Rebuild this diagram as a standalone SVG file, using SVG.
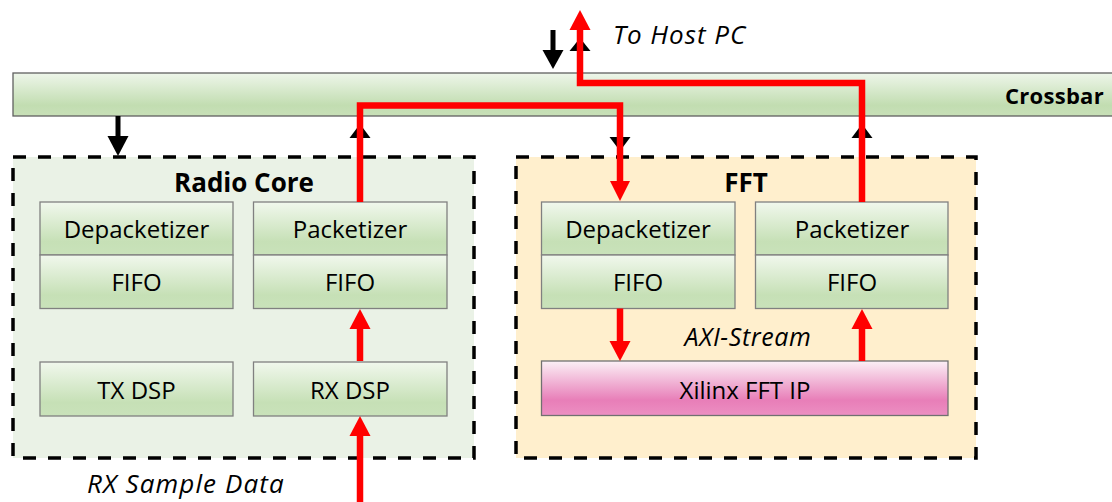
<svg xmlns="http://www.w3.org/2000/svg" width="1112" height="502" viewBox="0 0 1112 502">
  <defs>
    <linearGradient id="gGreen" x1="0" y1="0" x2="0" y2="1">
      <stop offset="0" stop-color="#F1F8ED"/>
      <stop offset="0.75" stop-color="#C6E0B6"/>
      <stop offset="1" stop-color="#C9E2BA"/>
    </linearGradient>
    <linearGradient id="gBar" x1="0" y1="0" x2="0" y2="1">
      <stop offset="0" stop-color="#EEF6EA"/>
      <stop offset="0.75" stop-color="#C2DDB1"/>
      <stop offset="1" stop-color="#C8E0B8"/>
    </linearGradient>
    <linearGradient id="gPink" x1="0" y1="0" x2="0" y2="1">
      <stop offset="0" stop-color="#FBF0F6"/>
      <stop offset="0.72" stop-color="#E87EB8"/>
      <stop offset="1" stop-color="#EC8FC2"/>
    </linearGradient>
    <style>
      .blk { fill: url(#gGreen); stroke: #808080; stroke-width: 1.3; }
      .ip { fill: url(#gPink); stroke: #707070; stroke-width: 1.3; }
      .cont { stroke: #000; stroke-width: 3.5; stroke-dasharray: 13 12; }
      .lbl { font-family: "Open Sans", "Liberation Sans", sans-serif; font-size: 24px; fill: #000; text-anchor: middle; }
      .ttl { font-family: "Open Sans", "Liberation Sans", sans-serif; font-size: 26px; font-weight: bold; fill: #000; text-anchor: middle; }
      .note { font-family: "Open Sans", "Liberation Sans", sans-serif; font-style: italic; fill: #000; }
      .red { fill: none; stroke: #FF0000; stroke-width: 6.5; stroke-linejoin: miter; }
      .redhead { fill: #FF0000; }
      .blkline { fill: none; stroke: #000; stroke-width: 5; }
      .blkhead { fill: #000; }
    </style>
  </defs>

  <!-- crossbar bus -->
  <g id="crossbar">
    <rect x="13" y="73" width="1110" height="43" fill="url(#gBar)" stroke="#606060" stroke-width="1.3"/>
    <text x="1104" y="104" class="ttl" style="font-size:22px;text-anchor:end;letter-spacing:0.3px">Crossbar</text>
  </g>

  <!-- Radio Core block -->
  <g id="radio-core">
    <rect x="13" y="157" width="461" height="301" fill="#EAF2E6" class="cont"/>
    <text x="244" y="191.5" class="ttl">Radio Core</text>
  </g>
  <g id="rc-depacketizer">
    <rect x="40" y="202" width="193" height="53" class="blk"/>
    <text x="136.5" y="238" class="lbl">Depacketizer</text>
  </g>
  <g id="rc-depacketizer-fifo">
    <rect x="40" y="255" width="193" height="53.5" class="blk"/>
    <text x="136.5" y="291" class="lbl">FIFO</text>
  </g>
  <g id="rc-packetizer">
    <rect x="253.5" y="202" width="193.5" height="53" class="blk"/>
    <text x="350" y="238" class="lbl">Packetizer</text>
  </g>
  <g id="rc-packetizer-fifo">
    <rect x="253.5" y="255" width="193.5" height="53.5" class="blk"/>
    <text x="350" y="291" class="lbl">FIFO</text>
  </g>
  <g id="tx-dsp">
    <rect x="40" y="362" width="193" height="54" class="blk"/>
    <text x="136.5" y="399" class="lbl">TX DSP</text>
  </g>
  <g id="rx-dsp">
    <rect x="253.5" y="362" width="193.5" height="54" class="blk"/>
    <text x="350" y="399" class="lbl">RX DSP</text>
  </g>

  <!-- FFT block -->
  <g id="fft">
    <rect x="516" y="157" width="460" height="301" fill="#FFEFCD" class="cont"/>
    <text x="746" y="192" class="ttl">FFT</text>
  </g>
  <g id="fft-depacketizer">
    <rect x="541.5" y="202" width="193.5" height="53" class="blk"/>
    <text x="638" y="238" class="lbl">Depacketizer</text>
  </g>
  <g id="fft-depacketizer-fifo">
    <rect x="541.5" y="255" width="193.5" height="53.5" class="blk"/>
    <text x="638" y="291" class="lbl">FIFO</text>
  </g>
  <g id="fft-packetizer">
    <rect x="755.5" y="202" width="192.5" height="53" class="blk"/>
    <text x="852" y="238" class="lbl">Packetizer</text>
  </g>
  <g id="fft-packetizer-fifo">
    <rect x="755.5" y="255" width="192.5" height="53.5" class="blk"/>
    <text x="852" y="291" class="lbl">FIFO</text>
  </g>
  <g id="xilinx-fft-ip">
    <rect x="541.5" y="361" width="406.5" height="54.5" class="ip"/>
    <text x="745" y="399" class="lbl">Xilinx FFT IP</text>
  </g>

  <!-- free labels -->
  <text x="613" y="44" class="note" style="font-size:26px;letter-spacing:1px">To Host PC</text>
  <text x="748" y="346" class="note" style="font-size:25px;letter-spacing:0.6px;text-anchor:middle">AXI-Stream</text>
  <text x="87" y="493" class="note" style="font-size:26px;letter-spacing:1.1px">RX Sample Data</text>

  <g id="connectors">
    <!-- crossbar port arrows (black) -->
    <path class="blkline" d="M118 116 V138"/>
    <polygon class="blkhead" points="107.5,136 128.5,136 118,156"/>
    <path class="blkline" d="M553 30 V52"/>
    <polygon class="blkhead" points="542.5,50 563.5,50 553,69"/>
    <path class="blkline" d="M580 49 V73"/>
    <polygon class="blkhead" points="569.5,51 590.5,51 580,38"/>
    <path class="blkline" d="M360 136 V157"/>
    <polygon class="blkhead" points="349.5,138 370.5,138 360,124"/>
    <path class="blkline" d="M620 116 V139"/>
    <polygon class="blkhead" points="609.5,137 630.5,137 620,151"/>
    <path class="blkline" d="M862 136 V157"/>
    <polygon class="blkhead" points="851.5,138 872.5,138 862,124"/>

    <!-- RX data path (red) -->
    <path class="red" d="M360 502 V434"/>
    <polygon class="redhead" points="349.5,436 370.5,436 360,416"/>
    <path class="red" d="M360 361 V327"/>
    <polygon class="redhead" points="349.5,329 370.5,329 360,309"/>
    <path class="red" d="M360 202 V105.5 H620 V183"/>
    <polygon class="redhead" points="610,181 630,181 620,201"/>
    <path class="red" d="M620 308.5 V343"/>
    <polygon class="redhead" points="609.5,341 630.5,341 620,361"/>
    <path class="red" d="M862 361 V327"/>
    <polygon class="redhead" points="851.5,329 872.5,329 862,309"/>
    <path class="red" d="M862 202 V83 H580 V28"/>
    <polygon class="redhead" points="569.5,30 590.5,30 580,10"/>
  </g>
</svg>
